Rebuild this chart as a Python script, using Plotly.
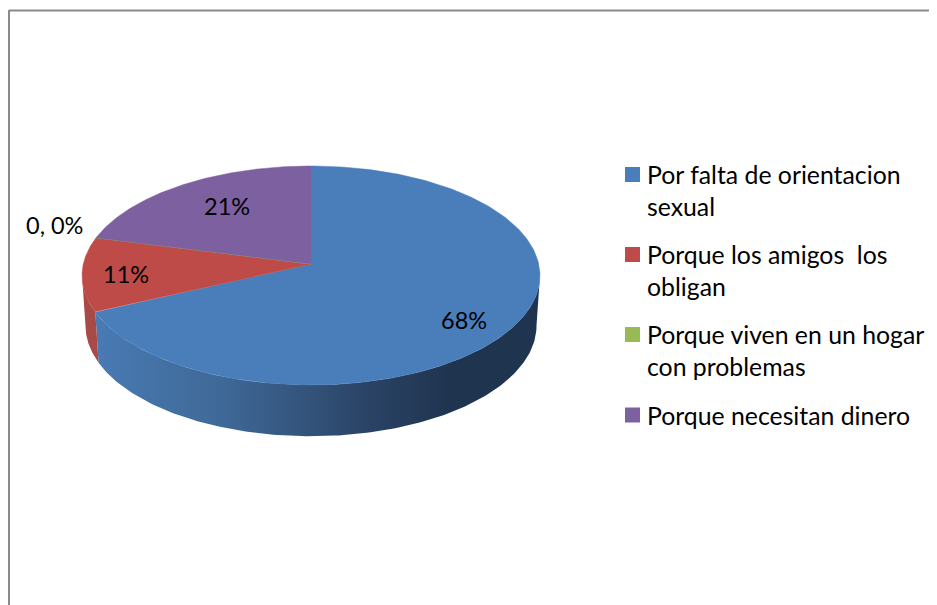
import numpy as np
import plotly.graph_objects as go

categories = ["Por falta de orientacion<br>sexual",
              "Porque los amigos \u00a0los<br>obligan",
              "Porque viven en un hogar<br>con problemas",
              "Porque necesitan dinero"]
values = [68, 11, 0, 21]
labels = ["68%", "11%", "0, 0%", "21%"]

top_colors = ["#4A7EBB", "#BE4B48", "#98B954", "#7D60A0"]
side_colors = ["#4A7EBB", "#A84A47", "#7F9A47", "#684F85"]
blue_ramp = [[0, "#4A7BB5"], [0.3, "#3E6896"], [0.62, "#2A4365"], [0.8, "#1F344F"], [1, "#1F344F"]]

label_pos = [(464, 320), (126, 274), (54, 225), (227, 206)]
legend_swatch_y = [174.5, 254.5, 334.5, 415]
legend_line_gap = 32
FONT = "Lato"
LABEL_SIZE = 23.5
LEGEND_SIZE = 24.8

# the page has an 8px body margin, so the plot starts at (8, 8)
PAGE_W, PAGE_H, OFF = 937, 605, 8

# projected disc geometry, in page pixels
CX, APEX_Y, A, B, K = 311, 264, 227.7, 108.3, 0.105
LOW_APEX_Y, LOW_XS, LOW_YS = 314, 0.985, 1.01
WALL_RIGHT, WALL_LEFT = 96, 264


def rim(deg, low=False):
    t = np.radians(deg)
    u, v = np.sin(t), np.cos(t)
    d = 1 + K * v
    X, Y = A * u / d, B * v / d
    if low:
        return CX + X * LOW_XS, LOW_APEX_Y - Y * LOW_YS
    return CX + X, APEX_Y - Y


total = sum(values)
edges = np.concatenate([[0], np.cumsum(values)]) / total * 360
fig = go.Figure()

# front wall, blue then red
for i, (a0, a1) in [(0, (WALL_RIGHT, edges[1])), (1, (edges[1], WALL_LEFT))]:
    th = np.linspace(a0, a1, 160)
    xt, yt = rim(th)
    xb, yb = rim(th[::-1], low=True)
    kw = dict(fillcolor=side_colors[i])
    line_col = side_colors[i]
    if i == 0:
        kw = dict(fillgradient=dict(type="horizontal", start=90, stop=540, colorscale=blue_ramp))
        line_col = "rgba(0,0,0,0)"
    fig.add_trace(go.Scatter(x=np.r_[xt, xb], y=np.r_[yt, yb], mode="lines", fill="toself",
                             line=dict(color=line_col, width=0), hoverinfo="skip", showlegend=False, **kw))

# top face slices
for i, c in enumerate(categories):
    th = np.linspace(edges[i], edges[i + 1], 240)
    xt, yt = rim(th)
    fig.add_trace(go.Scatter(x=np.r_[CX, xt, CX], y=np.r_[APEX_Y, yt, APEX_Y], mode="lines", fill="toself",
                             fillcolor=top_colors[i], line=dict(color=top_colors[i], width=0.5),
                             name=c.replace("<br>", " "), hoverinfo="name", showlegend=False))

# key swatches
fig.add_trace(go.Scatter(x=[632.5] * 4, y=legend_swatch_y, mode="markers",
                         marker=dict(symbol="square", size=15, color=top_colors, line=dict(width=0)),
                         hoverinfo="skip", showlegend=False))

ann = []
for txt, (x, y) in zip(labels, label_pos):
    ann.append(dict(x=x, y=y, text=txt, showarrow=False, xanchor="center", yanchor="middle",
                    font=dict(size=LABEL_SIZE)))
for c, y in zip(categories, legend_swatch_y):
    for j, line in enumerate(c.split("<br>")):
        ann.append(dict(x=645, y=y + j * legend_line_gap, text=line, showarrow=False,
                        xanchor="left", yanchor="middle", font=dict(size=LEGEND_SIZE)))

frame = dict(type="line", line=dict(color="#8A8A8A", width=2), layer="above")
fig.update_layout(
    width=PAGE_W - OFF, height=PAGE_H - OFF, margin=dict(l=0, r=0, t=0, b=0),
    paper_bgcolor="white", plot_bgcolor="white",
    font=dict(family=FONT, size=LEGEND_SIZE, color="#000000"),
    xaxis=dict(range=[OFF, PAGE_W], visible=False, fixedrange=True),
    yaxis=dict(range=[PAGE_H, OFF], visible=False, fixedrange=True),
    annotations=ann,
    shapes=[dict(x0=9, x1=PAGE_W, y0=10.5, y1=10.5, **frame), dict(x0=9, x1=9, y0=10, y1=PAGE_H, **frame)],
)
fig.write_html("out.html", config=dict(displayModeBar=False))
